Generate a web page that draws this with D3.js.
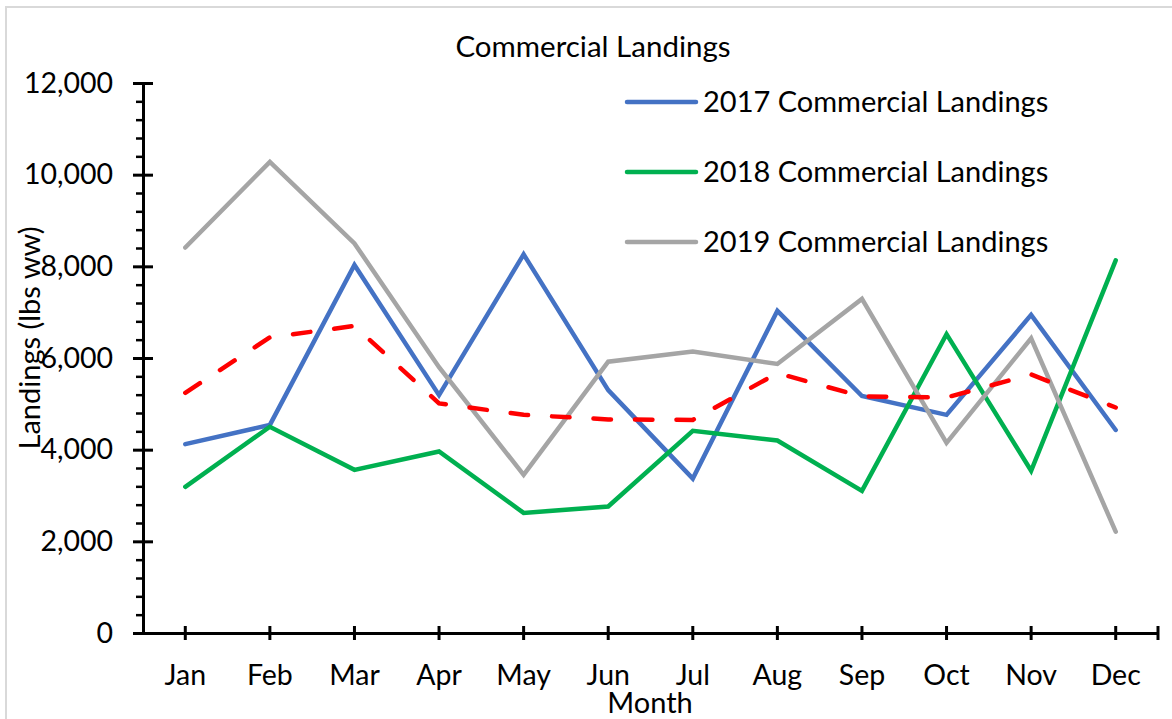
<!DOCTYPE html>
<html>
<head>
<meta charset="utf-8">
<script src="https://cdn.jsdelivr.net/npm/d3@7"></script>
<style>
  body { margin: 0; background: #fff; }
  text { font-family: Lato, "Noto Sans", sans-serif; fill: #000; }
</style>
</head>
<body>
<div id="chart"></div>
<script>
// values
const months = ["Jan", "Feb", "Mar", "Apr", "May", "Jun", "Jul", "Aug", "Sep", "Oct", "Nov", "Dec"];
const landings2017 = [4120, 4540, 8030, 5190, 8260, 5300, 3370, 7030, 5170, 4760, 6940, 4430];
const landings2018 = [3190, 4500, 3560, 3960, 2620, 2760, 4410, 4200, 3100, 6520, 3540, 8130];
const landings2019 = [8410, 10280, 8500, 5800, 3450, 5920, 6140, 5870, 7290, 4150, 6430, 2210];
const landingsAvg = [5240, 6450, 6700, 5010, 4760, 4660, 4650, 5670, 5160, 5140, 5640, 4920];
const yTicks = [0, 2000, 4000, 6000, 8000, 10000, 12000];

const seriesNames = ["2017 Commercial Landings", "2018 Commercial Landings", "2019 Commercial Landings"];
const seriesColors = ["#4472C4", "#00B050", "#A5A5A5"];

const width = 1172, height = 719;
const margin = {top: 83, right: 14, bottom: 86, left: 143};

const svg = d3.select("#chart").append("svg")
    .attr("width", width)
    .attr("height", height);

// outer chart border
svg.append("rect")
    .attr("x", 6).attr("y", 7)
    .attr("width", width).attr("height", height)
    .attr("fill", "none")
    .attr("stroke", "#d9d9d9")
    .attr("stroke-width", 2);

const x = d3.scaleBand()
    .domain(months)
    .range([margin.left, width - margin.right]);

const y = d3.scaleLinear()
    .domain([0, 12000])
    .range([height - margin.bottom, margin.top]);

const xc = m => x(m) + x.bandwidth() / 2;

// title
svg.append("text")
    .attr("x", 593)
    .attr("y", 57)
    .attr("text-anchor", "middle")
    .style("font-size", "29.5px")
    .text("Commercial Landings");

// minor y ticks
const minorTicks = d3.range(0, 12001, 400).filter(v => v % 2000 !== 0);
svg.append("g")
    .attr("transform", "translate(" + margin.left + ",0)")
    .call(d3.axisLeft(y).tickValues(minorTicks).tickSize(7).tickFormat(""))
    .call(g => g.select(".domain").remove())
    .selectAll("line").attr("stroke", "#000").attr("stroke-width", 2.5);

// major y axis
const yAxis = svg.append("g")
    .attr("transform", "translate(" + margin.left + ",0)")
    .call(d3.axisLeft(y).tickValues(yTicks).tickSize(10).tickSizeOuter(0).tickPadding(20)
        .tickFormat(d3.format(",")));
yAxis.select(".domain").attr("stroke", "#000").attr("stroke-width", 3);
yAxis.selectAll(".tick line").attr("x1", 10).attr("stroke", "#000").attr("stroke-width", 3);
yAxis.selectAll(".tick text").style("font-size", "28.5px").style("font-family", "Lato, sans-serif");

// x axis
const xAxis = svg.append("g")
    .attr("transform", "translate(0," + y(0) + ")")
    .call(d3.axisBottom(x).tickSize(7).tickSizeOuter(0).tickPadding(25));
xAxis.select(".domain").attr("stroke", "#000").attr("stroke-width", 3);
xAxis.selectAll(".tick line").attr("y1", -7).attr("stroke", "#000").attr("stroke-width", 3);
xAxis.selectAll(".tick text").style("font-size", "28.5px").style("font-family", "Lato, sans-serif");
// end tick at the right of the axis
xAxis.append("line")
    .attr("x1", width - margin.right).attr("x2", width - margin.right)
    .attr("y1", -7).attr("y2", 7)
    .attr("stroke", "#000").attr("stroke-width", 3);

// axis titles
svg.append("text")
    .attr("x", 650)
    .attr("y", 713)
    .attr("text-anchor", "middle")
    .style("font-size", "29px")
    .text("Month");

svg.append("text")
    .attr("transform", "translate(40,338) rotate(-90)")
    .attr("text-anchor", "middle")
    .style("font-size", "29px")
    .text("Landings (lbs ww)");

// lines
const line = d3.line()
    .x((d, i) => xc(months[i]))
    .y(d => y(d));

[landings2017, landings2018, landings2019].forEach((vals, i) => {
    svg.append("path")
        .datum(vals)
        .attr("d", line)
        .attr("fill", "none")
        .attr("stroke", seriesColors[i])
        .attr("stroke-width", 4.5)
        .attr("stroke-linejoin", "miter")
        .attr("stroke-linecap", "round");
});

// average, dashed red
svg.append("path")
    .datum(landingsAvg)
    .attr("d", line)
    .attr("fill", "none")
    .attr("stroke", "#FF0000")
    .attr("stroke-width", 4.5)
    .attr("stroke-dasharray", "17.5 24")
    .attr("stroke-linecap", "round");

// legend
const legend = svg.append("g");
seriesNames.forEach((name, i) => {
    const ly = 102 + i * 70;
    legend.append("line")
        .attr("x1", 627).attr("x2", 696)
        .attr("y1", ly).attr("y2", ly)
        .attr("stroke", seriesColors[i])
        .attr("stroke-width", 4.5)
        .attr("stroke-linecap", "round");
    legend.append("text")
        .attr("x", 703)
        .attr("y", ly + 10)
        .style("font-size", "29px")
        .text(name);
});
</script>
</body>
</html>
